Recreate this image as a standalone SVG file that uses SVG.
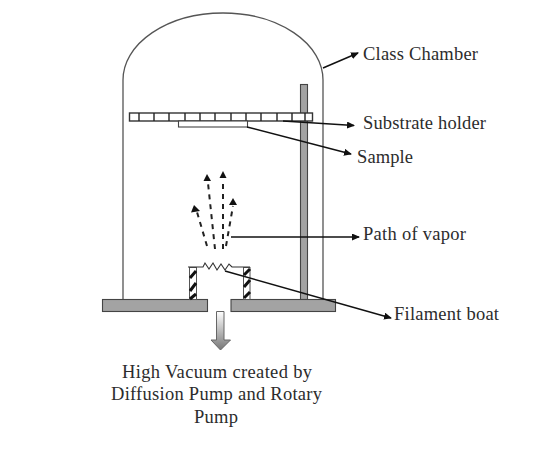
<svg xmlns="http://www.w3.org/2000/svg" width="558" height="451" viewBox="0 0 558 451">
<style>
.l{fill:none;stroke:#555;stroke-width:1.3}
.g{fill:#a3a3a3;stroke:#444;stroke-width:1.1}
.c{fill:none;stroke:#111;stroke-width:1.5}
.v{fill:none;stroke:#222;stroke-width:2;stroke-dasharray:5 5}
.h{fill:#111}
text{font-family:"Liberation Serif","Times New Roman",serif;font-size:18.5px;fill:#2c2c2c}
</style>
<defs>
<marker id="a" markerWidth="8" markerHeight="7" refX="7" refY="3.500" orient="auto" markerUnits="userSpaceOnUse"><path d="M0 0L8 3.500L0 7z" fill="#111"/></marker>
<linearGradient id="gr" x1="0" y1="0" x2="0" y2="1"><stop offset="0" stop-color="#fff"/><stop offset="1" stop-color="#777"/></linearGradient>
</defs>
<g id="chamber"><path class="l" d="M123 299V80A100 67 0 0 1 323 80V299"/></g>
<g id="post"><rect class="g" x="300.500" y="84.500" width="7" height="215"/></g>
<g id="holder">
<rect x="129.500" y="113" width="183" height="8" fill="#fff" stroke="#333" stroke-width="1.400"/>
<path stroke="#222" stroke-width="1.400" fill="none" d="M139 113v8M154 113v8M169 113v8M185 113v8M200 113v8M215 113v8M231 113v8M246 113v8M261 113v8M277 113v8M292 113v8M305 113v8"/>
</g>
<g id="sample"><rect x="178.500" y="121" width="69" height="6" fill="#fff" stroke="#444" stroke-width="1.100"/></g>
<g id="base">
<rect class="g" x="102.500" y="299.500" width="105" height="12"/>
<rect class="g" x="231" y="299.500" width="104.500" height="12"/>
</g>
<g id="boat">
<rect x="189.500" y="267.500" width="7" height="32" fill="#fff" stroke="#555"/>
<rect x="243.500" y="267.500" width="6.500" height="32" fill="#fff" stroke="#555"/>
<path stroke="#111" stroke-width="3" fill="none" d="M190 278l6-7M190 291l6-8M190 299l6-5M244 275l6-6M244 287l6-7M244 298l6-6"/>
<path fill="none" stroke="#333" stroke-width="1.100" d="M188 267H203L205 263L209 269L213 263L217 270L221 264L225 270L229 264L232 267H250"/>
</g>
<g id="vacuum-arrow"><path d="M216.500 311.500H224V340H230.500L220.500 350L211 340H216.500Z" fill="url(#gr)" stroke="#666"/></g>
<g id="vapor">
<path class="v" d="M207 246L197 212"/><path class="h" d="M194 205L200 211L191 212.500Z"/>
<path class="v" d="M215 249L208 183"/><path class="h" d="M207 174L211 181L203.500 181Z"/>
<path class="v" d="M223 249V180"/><path class="h" d="M223 171L226.500 178L219.500 178Z"/>
<path class="v" d="M226 246L233 206"/><path class="h" d="M233 198L237 205L229 205Z"/>
</g>
<g id="connectors">
<path class="c" marker-end="url(#a)" d="M323 68L358 53"/>
<path class="c" marker-end="url(#a)" d="M283 121L354 125.500"/>
<path class="c" marker-end="url(#a)" d="M247 127L351 154"/>
<path class="c" marker-end="url(#a)" d="M231 237H359"/>
<path class="c" marker-end="url(#a)" d="M225 271L391 318"/>
</g>
<g id="labels">
<text x="363" y="60" textLength="115" lengthAdjust="spacing">Class Chamber</text>
<text x="363" y="129" textLength="123" lengthAdjust="spacing">Substrate holder</text>
<text x="357" y="163" textLength="56" lengthAdjust="spacing">Sample</text>
<text x="363" y="240" textLength="103" lengthAdjust="spacing">Path of vapor</text>
<text x="394" y="320" textLength="105" lengthAdjust="spacing">Filament boat</text>
<text x="122" y="378" textLength="190" lengthAdjust="spacing">High Vacuum created by</text>
<text x="111" y="400" textLength="211" lengthAdjust="spacing">Diffusion Pump and Rotary</text>
<text x="194" y="423" textLength="44" lengthAdjust="spacing">Pump</text>
</g>
</svg>
